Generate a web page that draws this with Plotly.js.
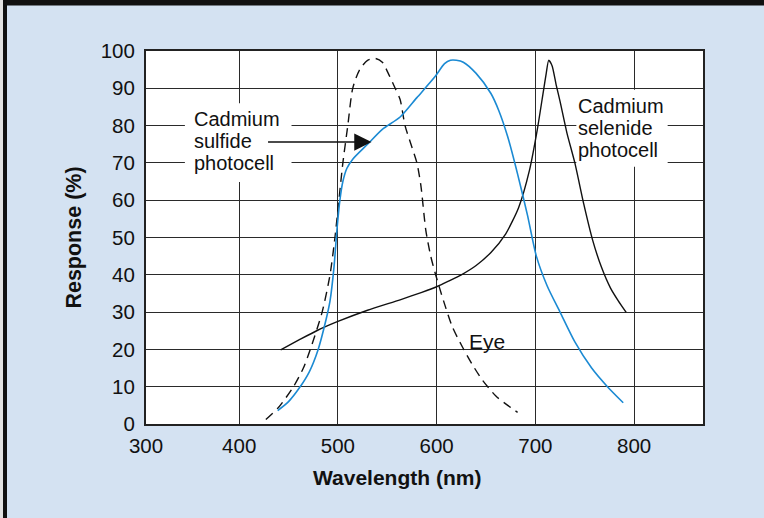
<!DOCTYPE html>
<html>
<head>
<meta charset="utf-8">
<script src="https://cdn.plot.ly/plotly-3.0.1.min.js"></script>
<style>
  html, body { margin: 0; padding: 0; background: #D4E2F2; }
  #chart { width: 764px; height: 518px; }
</style>
</head>
<body>
<div id="chart"></div>
<script>
// Eye response (dashed)
const eyeX = [427, 440, 455, 465, 472, 484, 492, 497, 501, 505, 510, 515, 522, 530, 538, 545, 551, 558, 563, 568, 574, 580, 584, 589, 594, 599, 607, 616, 626, 636, 646, 660, 672, 682];
const eyeY = [1.2, 4.5, 10, 15, 20, 30, 40, 50, 60, 70, 80, 90, 95, 97.5, 98, 97, 94, 90, 87, 80, 75, 70, 64, 52, 45, 40, 33, 26, 20.7, 16, 11.9, 7.5, 5, 3.1];

// Cadmium sulfide photocell (blue)
const cdsX = [439, 450, 461, 471, 480, 488, 492, 496, 499, 502, 505, 509, 515, 530, 545, 563, 580, 598, 608, 614, 620, 627, 640, 655, 663, 672, 682, 692, 701, 712, 725, 740, 757, 773, 789];
const cdsY = [3.6, 6, 9.7, 14, 20, 28, 33, 42, 52, 60, 65, 68.5, 71, 75, 79, 82.3, 87.5, 93, 96.6, 97.5, 97.5, 97, 94, 88.6, 84, 77, 67, 56, 45, 37, 30, 22, 15, 10, 5.7];

// Cadmium selenide photocell (black)
const cdseX = [442, 461, 480, 500, 530, 563, 585, 600, 612, 625, 640, 655, 670, 683, 694, 702, 708, 711, 713.5, 717, 721, 725, 732, 740, 749, 758, 767, 776, 784, 792];
const cdseY = [19.9, 22.6, 25.2, 27.5, 30.5, 33.3, 35.3, 36.8, 38.3, 40, 42.5, 46, 51, 58, 68, 79, 89, 94, 97.5, 96, 91, 86.5, 78, 70, 59, 49.3, 42, 36.5, 33, 29.9];

// Labels
const sulfideLines = ["Cadmium", "sulfide", "photocell"];
const selenideLines = ["Cadmium", "selenide", "photocell"];
const eyeLabel = "Eye";

// Axes
const xTickVals = [305.6, 400, 500, 600, 700, 800];
const xTickText = ["300", "400", "500", "600", "700", "800"];
const yTickVals = [0, 10, 20, 30, 40, 50, 60, 70, 80, 90, 100];
const yTickText = ["0", "10", "20", "30", "40", "50", "60", "70", "80", "90", "100"];

const FONT = "Liberation Sans, Arial, Helvetica, sans-serif";

const traces = [
  { x: eyeX, y: eyeY, type: "scatter", mode: "lines", name: "Eye",
    line: { color: "#111", width: 1.4, dash: "9px,6px", shape: "spline", smoothing: 0.7 }, hoverinfo: "skip" },
  { x: cdseX, y: cdseY, type: "scatter", mode: "lines", name: "Cadmium selenide photocell",
    line: { color: "#111", width: 1.4, shape: "spline", smoothing: 0.6 }, hoverinfo: "skip" },
  { x: cdsX, y: cdsY, type: "scatter", mode: "lines", name: "Cadmium sulfide photocell",
    line: { color: "#1B8AD3", width: 1.6, shape: "spline", smoothing: 0.7 }, hoverinfo: "skip" }
];

function px2paperX(p) { return (p - 146) / 557; }
function px2paperY(p) { return (424 - p) / 373; }

// multi-line label: base font sets the (tight) line spacing, spans set glyph size
function block(x, y, lines) {
  return { x: x, y: y, xref: "x", yref: "y", showarrow: false, xanchor: "left", yanchor: "middle", align: "left",
           text: lines.map(function (t) { return "<span style='font-size:20px'>" + t + "</span>"; }).join("<br>"),
           font: { family: FONT, size: 17, color: "#111" }, borderpad: 0 };
}

const layout = {
  width: 764, height: 518,
  margin: { l: 146, r: 61, t: 51, b: 94 },
  paper_bgcolor: "#D4E2F2",
  plot_bgcolor: "#FFFFFF",
  showlegend: false,
  font: { family: FONT, color: "#111", size: 20 },
  xaxis: {
    range: [305.6, 869.8],
    tickvals: xTickVals, ticktext: xTickText,
    showgrid: true, gridcolor: "#2a2a2a", gridwidth: 1,
    showline: true, linecolor: "#222", linewidth: 2, mirror: true,
    zeroline: false, ticks: "", ticklabelstandoff: 2,
    tickfont: { family: FONT, size: 20.5, color: "#111" },
    fixedrange: true
  },
  yaxis: {
    range: [0, 100],
    tickvals: yTickVals, ticktext: yTickText,
    showgrid: true, gridcolor: "#2a2a2a", gridwidth: 1,
    showline: true, linecolor: "#222", linewidth: 2, mirror: true,
    zeroline: false, ticks: "", ticklabelstandoff: 5,
    tickfont: { family: FONT, size: 20.5, color: "#111" },
    title: { text: "<b>Response (%)</b>", font: { family: FONT, size: 21.5, color: "#111" }, standoff: 13 },
    fixedrange: true
  },
  shapes: [
    { type: "rect", xref: "x", yref: "y", x0: 345, x1: 453, y0: 64.9, y1: 86, fillcolor: "#FFFFFF", line: { width: 0 }, layer: "between" },
    { type: "rect", xref: "x", yref: "y", x0: 741.5, x1: 834, y0: 69, y1: 89.6, fillcolor: "#FFFFFF", line: { width: 0 }, layer: "between" },
    { type: "rect", xref: "paper", yref: "paper", x0: px2paperX(0), x1: px2paperX(3), y0: px2paperY(530), y1: px2paperY(-10), fillcolor: "#E2E2E2", line: { width: 0 }, layer: "above" },
    { type: "rect", xref: "paper", yref: "paper", x0: px2paperX(3), x1: px2paperX(7), y0: px2paperY(530), y1: px2paperY(-10), fillcolor: "#111111", line: { width: 0 }, layer: "above" },
    { type: "rect", xref: "paper", yref: "paper", x0: px2paperX(3), x1: px2paperX(780), y0: px2paperY(5.5), y1: px2paperY(-10), fillcolor: "#111111", line: { width: 0 }, layer: "above" }
  ],
  annotations: [
    block(353, 75.8, sulfideLines),
    block(742, 79.45, selenideLines),
    { x: 631, y: 22.1, xref: "x", yref: "y", text: eyeLabel, showarrow: false, xanchor: "left", yanchor: "middle",
      font: { family: FONT, size: 21, color: "#111" } },
    { x: 534, y: 75.6, xref: "x", yref: "y", ax: 427.7, ay: 75.6, axref: "x", ayref: "y", text: "", showarrow: true,
      arrowhead: 2, arrowsize: 2.3, arrowwidth: 1.5, arrowcolor: "#111", standoff: 0, startstandoff: 0 },
    { x: px2paperX(397), y: px2paperY(477), xref: "paper", yref: "paper", text: "<b>Wavelength (nm)</b>", showarrow: false,
      xanchor: "center", yanchor: "middle", font: { family: FONT, size: 21, color: "#111" } }
  ]
};

Plotly.newPlot("chart", traces, layout, { displayModeBar: false, staticPlot: true });
</script>
</body>
</html>
